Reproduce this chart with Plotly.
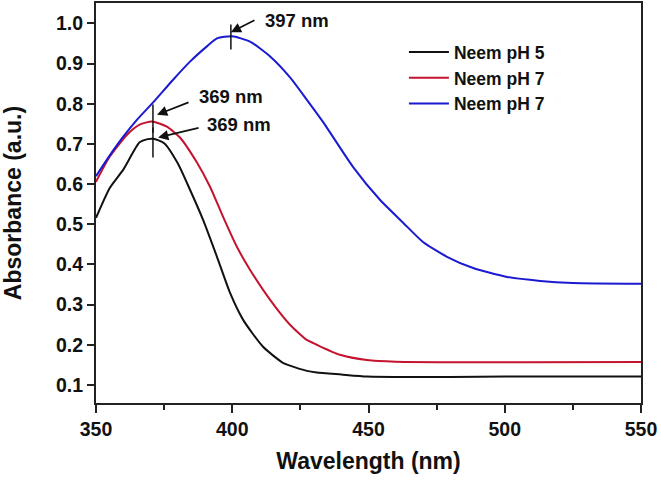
import plotly.graph_objects as go

# ---- data ----
wl_ph5 = [350, 355, 360, 366, 369, 371, 375, 380, 384.5, 389.3, 394.4, 399.2, 404,
          411.3, 418.6, 421.2, 427.4, 431, 440, 449.4, 460, 480, 500, 550]
abs_ph5 = [0.516, 0.590, 0.636, 0.704, 0.712, 0.713, 0.702, 0.652, 0.586, 0.511, 0.419,
           0.329, 0.262, 0.195, 0.155, 0.148, 0.135, 0.131, 0.126, 0.121, 0.120, 0.120,
           0.121, 0.121]

wl_ph7a = [350, 355, 361.4, 366, 370.5, 376, 380.8, 387.1, 391.8, 396.6, 401.7, 406.5,
           413.9, 421.2, 427.4, 431, 439.5, 449.4, 460, 550]
abs_ph7a = [0.606, 0.668, 0.723, 0.748, 0.756, 0.743, 0.716, 0.653, 0.594, 0.519, 0.444,
            0.387, 0.312, 0.250, 0.212, 0.200, 0.175, 0.162, 0.158, 0.157]

wl_ph7b = [350, 355, 360, 365, 370.9, 378.3, 384.5, 390.7, 394.4, 399.9, 406.5, 413.9,
           421.2, 427.4, 433.3, 444.3, 454.2, 462.7, 470, 478.8, 488.4, 500.8, 513, 525, 550]
abs_ph7b = [0.620, 0.671, 0.718, 0.760, 0.803, 0.860, 0.905, 0.943, 0.963, 0.968, 0.955,
            0.918, 0.866, 0.810, 0.755, 0.643, 0.561, 0.504, 0.456, 0.419, 0.391, 0.369,
            0.359, 0.354, 0.352]

names = ["Neem pH 5", "Neem pH 7", "Neem pH 7"]
colors = ["#111111", "#c4132f", "#1a1ad0"]

x_ticks = [350, 400, 450, 500, 550]
y_ticks = [0.1, 0.2, 0.3, 0.4, 0.5, 0.6, 0.7, 0.8, 0.9, 1.0]

FONT = "Liberation Sans, Arial, sans-serif"

fig = go.Figure()
for xs, ys, nm, col in [(wl_ph5, abs_ph5, names[0], colors[0]),
                        (wl_ph7a, abs_ph7a, names[1], colors[1]),
                        (wl_ph7b, abs_ph7b, names[2], colors[2])]:
    fig.add_trace(go.Scatter(x=xs, y=ys, mode="lines", name=nm,
                             line=dict(color=col, width=2, shape="spline", smoothing=0.6)))

# peak marker segments
for xv, y0, y1 in [(399.5, 0.935, 0.9975), (370.9, 0.728, 0.798), (370.9, 0.666, 0.741)]:
    fig.add_shape(type="line", xref="x", yref="y", x0=xv, x1=xv, y0=y0, y1=y1,
                  line=dict(color="#111111", width=1.5))

# arrows (head at x,y ; tail at ax,ay)
for hx, hy, tx, ty in [(399.5, 0.978, 408.7, 1.010),
                       (372.4, 0.773, 384.5, 0.805),
                       (372.8, 0.716, 388.2, 0.741)]:
    fig.add_annotation(x=hx, y=hy, ax=tx, ay=ty, xref="x", yref="y", axref="x", ayref="y",
                       text="", showarrow=True, arrowhead=2, arrowsize=1.2, arrowwidth=1.7,
                       arrowcolor="#111111", standoff=0, startstandoff=0)

# labels
for tx, ty, txt in [(411.3, 1.0075, "397 nm"), (387.1, 0.818, "369 nm"), (390.0, 0.748, "369 nm")]:
    fig.add_annotation(x=tx, y=ty, xref="x", yref="y", text=txt, showarrow=False,
                       xanchor="left", yanchor="middle",
                       font=dict(family=FONT, size=18.5, color="#111111", weight="bold"))

fig.update_layout(
    width=661, height=481,
    margin=dict(l=96, r=20, t=3, b=78, autoexpand=False),
    plot_bgcolor="white", paper_bgcolor="white",
    font=dict(family=FONT, size=19, color="#111111", weight="bold"),
    showlegend=True,
    legend=dict(x=0.565, y=0.922, xanchor="left", yanchor="top",
                bgcolor="rgba(0,0,0,0)", borderwidth=0, itemwidth=40,
                font=dict(family=FONT, size=17.5, color="#111111", weight="bold"),
                tracegroupgap=0),
)
fig.update_xaxes(range=[350, 550], tickvals=x_ticks, ticktext=[str(v) for v in x_ticks],
                 showgrid=False, zeroline=False, showline=True, linecolor="#222222", linewidth=2,
                 mirror=True, ticks="outside", ticklen=8, tickwidth=2, tickcolor="#222222",
                 minor=dict(tickvals=[375, 425, 475, 525], ticks="outside", ticklen=5,
                            tickwidth=2, tickcolor="#222222"),
                 tickfont=dict(family=FONT, size=19.5, color="#111111", weight="bold"),
                 title=dict(text="Wavelength (nm)", standoff=13,
                            font=dict(family=FONT, size=23, color="#111111", weight="bold")))
fig.update_yaxes(range=[0.055, 1.051], tickvals=y_ticks, ticktext=["%.1f" % v for v in y_ticks],
                 showgrid=False, zeroline=False, showline=True, linecolor="#222222", linewidth=2,
                 mirror=True, ticks="outside", ticklen=7, tickwidth=2, tickcolor="#222222",
                 tickfont=dict(family=FONT, size=19.5, color="#111111", weight="bold"),
                 title=dict(text="Absorbance (a.u.)", standoff=30,
                            font=dict(family=FONT, size=23, color="#111111", weight="bold")))

fig.write_html("out.html", config={"displayModeBar": False},
               post_script="document.body.style.margin='0';document.body.style.overflow='hidden';")
